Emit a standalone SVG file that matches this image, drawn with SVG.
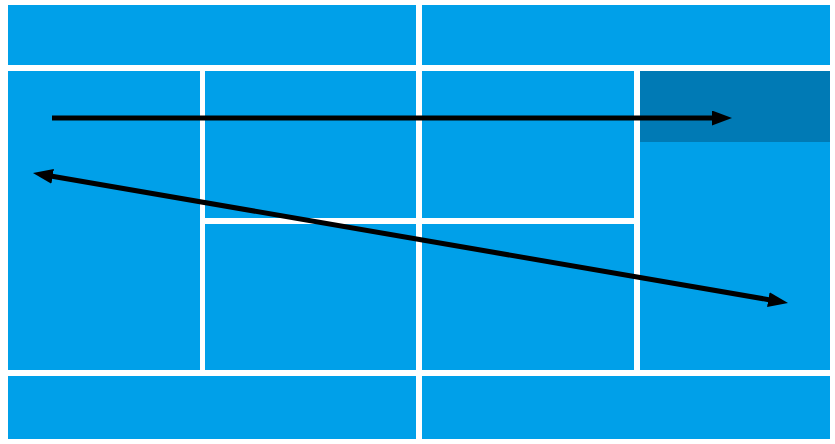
<svg xmlns="http://www.w3.org/2000/svg" width="835" height="444" viewBox="0 0 835 444">
  <style>
    .cell { fill: #00A0E9; }
    .hl { fill: #007AB5; }
    .conn { stroke: #000; fill: none; stroke-width: 5; }
  </style>
  <defs>
    <marker id="ah" markerUnits="userSpaceOnUse" markerWidth="20" markerHeight="15" viewBox="0 0 20 15" refX="2" refY="7.5" orient="auto-start-reverse">
      <path d="M0,0 L20,7.5 L0,15 z" fill="#000"/>
    </marker>
  </defs>
  <rect width="835" height="444" fill="#fff"/>
  <g id="top-left"><rect class="cell" x="8" y="5" width="408" height="60"/></g>
  <g id="top-right"><rect class="cell" x="422" y="5" width="408" height="60"/></g>
  <g id="col1"><rect class="cell" x="8" y="71" width="192" height="299"/></g>
  <g id="col2-top"><rect class="cell" x="205" y="71" width="211" height="147"/></g>
  <g id="col3-top"><rect class="cell" x="422" y="71" width="212" height="147"/></g>
  <g id="col2-bottom"><rect class="cell" x="205" y="224" width="211" height="146"/></g>
  <g id="col3-bottom"><rect class="cell" x="422" y="224" width="212" height="146"/></g>
  <g id="col4">
    <rect class="cell" x="640" y="71" width="190" height="299"/>
    <rect class="hl" x="640" y="71" width="190" height="71"/>
  </g>
  <g id="bottom-left"><rect class="cell" x="8" y="376" width="408" height="63"/></g>
  <g id="bottom-right"><rect class="cell" x="422" y="376" width="408" height="63"/></g>
  <g id="connectors">
    <line class="conn" x1="52" y1="118" x2="714" y2="118" marker-end="url(#ah)"/>
    <line class="conn" x1="50.7" y1="176.05" x2="770.3" y2="299.95" marker-start="url(#ah)" marker-end="url(#ah)"/>
  </g>
</svg>
